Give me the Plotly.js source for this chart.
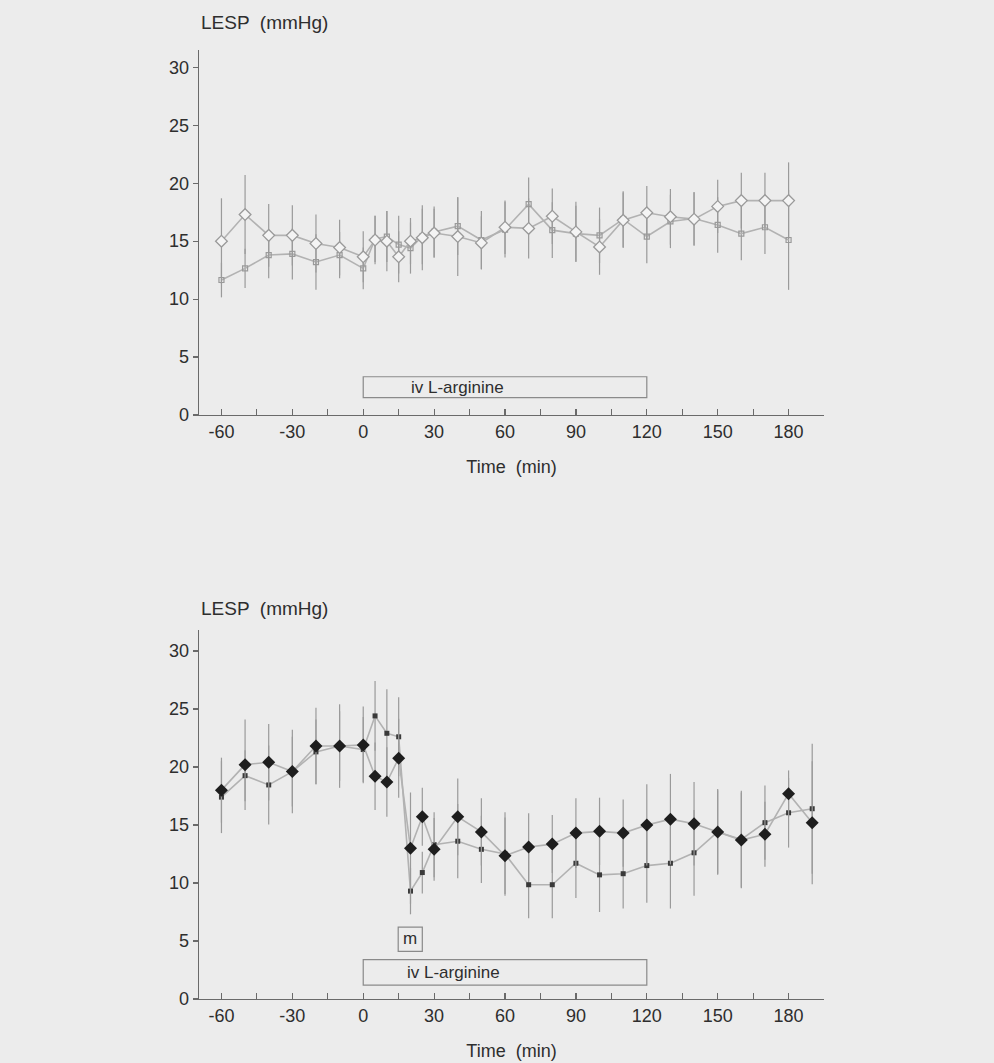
<!DOCTYPE html>
<html>
<head>
<meta charset="utf-8">
<script src="https://cdn.plot.ly/plotly-3.0.1.min.js"></script>
<style>
  html, body { margin: 0; padding: 0; background: #ececec; }
  #chart { width: 994px; height: 1063px; }
</style>
</head>
<body>
<div id="chart"></div>
<script>
// ---------- Data ----------
// Upper panel (fasting): open diamonds vs small open squares
var timeTop = [-60,-50,-40,-30,-20,-10,0,5,10,15,20,25,30,40,50,60,70,80,90,100,110,120,130,140,150,160,170,180];
var topDiamond = [15.0,17.3,15.5,15.5,14.8,14.45,13.65,15.1,15.0,13.65,15.0,15.3,15.7,15.4,14.85,16.2,16.1,17.15,15.8,14.5,16.8,17.45,17.1,16.9,18.0,18.5,18.5,18.5];
var topDiamondErr = [3.7,3.4,2.7,2.6,2.5,2.4,2.2,2.1,2.6,2.2,2.0,2.8,2.1,3.4,2.3,2.3,2.6,2.4,2.6,2.4,2.4,2.3,2.4,2.3,2.3,2.4,2.4,3.3];
var topSmall = [11.65,12.65,13.8,13.9,13.2,13.8,12.65,15.2,15.4,14.7,14.4,15.4,15.8,16.3,15.1,16.0,18.2,15.95,15.65,15.5,16.9,15.4,16.7,16.95,16.4,15.65,16.2,15.1];
var topSmallErr = [1.5,1.7,2.0,2.2,2.4,2.0,1.8,2.0,2.2,2.5,2.2,2.4,2.2,2.5,2.5,2.4,2.3,2.4,2.4,2.4,2.4,2.3,2.3,2.3,2.4,2.3,2.3,4.3];

// Lower panel (meal): filled diamonds vs small filled squares
var timeBot = [-60,-50,-40,-30,-20,-10,0,5,10,15,20,25,30,40,50,60,70,80,90,100,110,120,130,140,150,160,170,180,190];
var botDiamond = [18.0,20.2,20.4,19.6,21.8,21.8,21.9,19.2,18.7,20.75,13.0,15.7,12.9,15.7,14.4,12.35,13.1,13.35,14.3,14.45,14.3,15.0,15.5,15.1,14.4,13.7,14.2,17.7,15.2];
var botDiamondErr = [2.8,3.9,3.3,3.6,3.3,3.6,3.3,2.9,3.0,3.4,4.8,2.5,2.7,3.3,2.9,3.3,2.9,2.5,3.0,2.9,2.9,3.5,3.9,3.6,3.7,4.1,2.8,2.0,5.3];
var botSmall = [17.4,19.25,18.45,19.6,21.3,21.8,21.5,24.4,22.9,22.6,9.3,10.9,13.3,13.6,12.9,12.5,9.85,9.85,11.7,10.7,10.8,11.5,11.7,12.6,14.4,13.75,15.2,16.05,16.4];
var botSmallErr = [3.1,2.2,3.4,3.0,2.8,3.0,2.8,3.0,3.8,3.4,2.0,1.8,2.8,3.2,2.9,3.6,2.9,2.9,3.0,3.2,3.0,3.2,3.9,3.7,3.6,4.2,3.2,3.0,5.6];

// Axis ticks
var xTickVals = [-60,-45,-30,-15,0,15,30,45,60,75,90,105,120,135,150,165,180];
var xTickText = ['-60','','-30','','0','','30','','60','','90','','120','','150','','180'];
var yTickVals = [0,5,10,15,20,25,30];

// Labels
var yTitle = 'LESP  (mmHg)';
var xTitle = 'Time  (min)';
var infusionLabel = 'iv L-arginine';
var mealLabel = 'm';

// ---------- Styles ----------
var FONT = '"Liberation Sans", Arial, Helvetica, sans-serif';
var TXT = '#2e2e2e';
var LINE_C = '#b2b2b2';
var ERR_C = '#9a9a9a';

function series(x, y, err, xa, ya, marker, name) {
  return {
    x: x, y: y, xaxis: xa, yaxis: ya, name: name,
    type: 'scatter', mode: 'lines+markers',
    line: { color: LINE_C, width: 1.6 },
    marker: marker,
    error_y: { type: 'data', array: err, visible: true, color: ERR_C, thickness: 1.2, width: 0 },
    showlegend: false, cliponaxis: false
  };
}

var traces = [
  series(timeTop, topSmall, topSmallErr, 'x', 'y',
    { symbol: 'square-open', size: 5, color: '#9a9a9a', line: { color: '#9a9a9a', width: 1.2 } }, 'Control'),
  series(timeTop, topDiamond, topDiamondErr, 'x', 'y',
    { symbol: 'diamond', size: 9, color: '#f4f4f4', line: { color: '#9a9a9a', width: 1.3 } }, 'ARG'),
  series(timeBot, botSmall, botSmallErr, 'x2', 'y2',
    { symbol: 'square', size: 5, color: '#3a3a3a', line: { width: 0 } }, 'Control-meal'),
  series(timeBot, botDiamond, botDiamondErr, 'x2', 'y2',
    { symbol: 'diamond', size: 10, color: '#1e1e1e', line: { width: 0 } }, 'ARG-meal')
];

function xAxis(anchor) {
  return {
    domain: [0.2002, 0.829], range: [-69.5, 195], anchor: anchor,
    showline: true, linecolor: '#6a6a6a', linewidth: 1.3,
    showgrid: false, zeroline: false,
    ticks: 'inside', ticklen: 6, tickwidth: 1.2, tickcolor: '#6a6a6a',
    tickmode: 'array', tickvals: xTickVals, ticktext: xTickText,
    tickfont: { family: FONT, size: 18, color: TXT },
    title: { text: xTitle, font: { family: FONT, size: 18, color: TXT }, standoff: 19 }
  };
}
function yAxis(anchor, domain, top) {
  return {
    domain: domain, range: [0, top], anchor: anchor,
    showline: true, linecolor: '#6a6a6a', linewidth: 1.3,
    showgrid: false, zeroline: false,
    ticks: 'outside', ticklen: 5, tickwidth: 1.2, tickcolor: '#6a6a6a',
    tickmode: 'array', tickvals: yTickVals,
    tickfont: { family: FONT, size: 18, color: TXT }
  };
}

var boxLine = { color: '#8a8a8a', width: 1.2 };

var layout = {
  width: 994, height: 1063,
  margin: { l: 0, r: 0, t: 0, b: 0 },
  paper_bgcolor: '#ececec', plot_bgcolor: '#ececec',
  font: { family: FONT, color: TXT },
  xaxis: xAxis('y'),
  yaxis: yAxis('x', [0.6096, 0.953], 31.5),
  xaxis2: xAxis('y2'),
  yaxis2: yAxis('x2', [0.0602, 0.4073], 31.8),
  shapes: [
    { type: 'rect', xref: 'x', yref: 'y', x0: 0, x1: 120, y0: 1.5, y1: 3.3, line: boxLine, layer: 'below' },
    { type: 'rect', xref: 'x2', yref: 'y2', x0: 0, x1: 120, y0: 1.2, y1: 3.4, line: boxLine, layer: 'below' },
    { type: 'rect', xref: 'x2', yref: 'y2', x0: 14.8, x1: 25, y0: 4.1, y1: 6.2, line: boxLine, layer: 'below' }
  ],
  annotations: [
    { xref: 'paper', yref: 'paper', x: 0.2002, y: 1 - 22 / 1063, xanchor: 'left', yanchor: 'middle',
      text: yTitle, showarrow: false, font: { family: FONT, size: 19, color: TXT } },
    { xref: 'paper', yref: 'paper', x: 0.2002, y: 1 - 608 / 1063, xanchor: 'left', yanchor: 'middle',
      text: yTitle, showarrow: false, font: { family: FONT, size: 19, color: TXT } },
    { xref: 'x', yref: 'y', x: 40, y: 2.4, text: infusionLabel, showarrow: false,
      font: { family: FONT, size: 17, color: TXT } },
    { xref: 'x2', yref: 'y2', x: 38, y: 2.3, text: infusionLabel, showarrow: false,
      font: { family: FONT, size: 17, color: TXT } },
    { xref: 'x2', yref: 'y2', x: 19.9, y: 5.2, text: mealLabel, showarrow: false,
      font: { family: FONT, size: 17, color: TXT } }
  ]
};

Plotly.newPlot('chart', traces, layout, { displayModeBar: false, staticPlot: true });
</script>
</body>
</html>
